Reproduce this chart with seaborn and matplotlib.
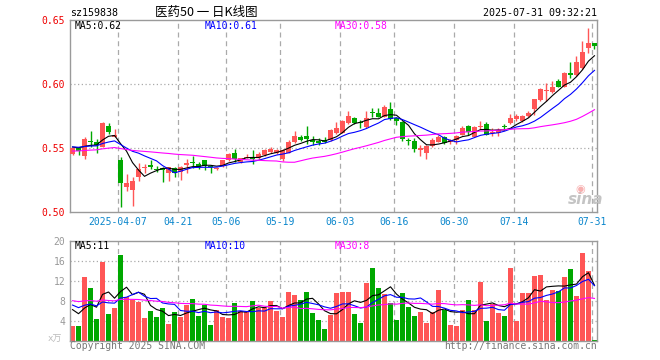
import numpy as np
import pandas as pd
import seaborn as sns
from matplotlib import pyplot as plt

# ------------------------------------------------- #
# daily K data, sz159838
holidays = ["2025-04-04", "2025-05-01", "2025-05-02", "2025-05-05", "2025-06-02"]
tick_dates = ["2025-04-07", "2025-04-21", "2025-05-06", "2025-05-19", "2025-06-03",
              "2025-06-16", "2025-06-30", "2025-07-14", "2025-07-31"]
tick_labels = ["2025-04-07", "04-21", "05-06", "05-19", "06-03",
               "06-16", "06-30", "07-14", "07-31"]

opens = [0.5451, 0.5498, 0.5440, 0.5555, 0.5549, 0.5505, 0.5674, 0.5588, 0.5406, 0.5198,
         0.5172, 0.5271, 0.5341, 0.5367, 0.5334, 0.5346, 0.5302, 0.5346, 0.5315, 0.5367,
         0.5393, 0.5375, 0.5406, 0.5357, 0.5333, 0.5359, 0.5406, 0.5463, 0.5393, 0.5424,
         0.5427, 0.5419, 0.5445, 0.5471, 0.5458, 0.5414, 0.5463, 0.5545, 0.5588, 0.5594,
         0.5563, 0.5549, 0.5563, 0.5563, 0.5620, 0.5620, 0.5698, 0.5732, 0.5698, 0.5666,
         0.5776, 0.5776, 0.5745, 0.5805, 0.5732, 0.5701, 0.5563, 0.5555, 0.5484, 0.5458,
         0.5516, 0.5549, 0.5588, 0.5549, 0.5563, 0.5602, 0.5672, 0.5588, 0.5662, 0.5688,
         0.5615, 0.5620, 0.5666, 0.5698, 0.5724, 0.5711, 0.5750, 0.5802, 0.5875, 0.5945,
         0.5935, 0.6026, 0.5979, 0.6088, 0.6070, 0.6123, 0.6279, 0.6318]
closes = [0.5498, 0.5479, 0.5570, 0.5547, 0.5523, 0.5693, 0.5625, 0.5602, 0.5229, 0.5229,
          0.5245, 0.5336, 0.5354, 0.5354, 0.5328, 0.5328, 0.5349, 0.5307, 0.5354, 0.5380,
          0.5380, 0.5354, 0.5359, 0.5352, 0.5346, 0.5406, 0.5453, 0.5412, 0.5419, 0.5432,
          0.5414, 0.5451, 0.5484, 0.5492, 0.5484, 0.5484, 0.5549, 0.5596, 0.5563, 0.5570,
          0.5549, 0.5542, 0.5549, 0.5641, 0.5659, 0.5711, 0.5750, 0.5693, 0.5693, 0.5737,
          0.5771, 0.5745, 0.5823, 0.5727, 0.5714, 0.5568, 0.5555, 0.5490, 0.5497, 0.5516,
          0.5563, 0.5588, 0.5542, 0.5563, 0.5594, 0.5659, 0.5627, 0.5666, 0.5672, 0.5602,
          0.5627, 0.5641, 0.5662, 0.5737, 0.5750, 0.5752, 0.5776, 0.5880, 0.5961, 0.5953,
          0.5979, 0.5979, 0.6088, 0.6070, 0.6169, 0.6248, 0.6318, 0.6299]
highs = [0.5502, 0.5505, 0.5584, 0.5633, 0.5568, 0.5705, 0.5693, 0.5645, 0.5432, 0.5297,
         0.5271, 0.5380, 0.5373, 0.5406, 0.5360, 0.5355, 0.5355, 0.5352, 0.5360, 0.5414,
         0.5438, 0.5393, 0.5410, 0.5370, 0.5352, 0.5410, 0.5458, 0.5495, 0.5425, 0.5450,
         0.5484, 0.5466, 0.5490, 0.5508, 0.5490, 0.5490, 0.5560, 0.5635, 0.5605, 0.5674,
         0.5590, 0.5580, 0.5585, 0.5650, 0.5700, 0.5720, 0.5790, 0.5740, 0.5720, 0.5790,
         0.5810, 0.5810, 0.5836, 0.5862, 0.5745, 0.5710, 0.5580, 0.5575, 0.5520, 0.5525,
         0.5575, 0.5600, 0.5595, 0.5570, 0.5600, 0.5670, 0.5680, 0.5672, 0.5711, 0.5700,
         0.5660, 0.5655, 0.5685, 0.5765, 0.5765, 0.5760, 0.5790, 0.5885, 0.5965, 0.6005,
         0.6020, 0.6036, 0.6092, 0.6174, 0.6219, 0.6336, 0.6440, 0.6320]
lows = [0.5445, 0.5445, 0.5412, 0.5505, 0.5460, 0.5505, 0.5609, 0.5583, 0.5041, 0.5166,
        0.5049, 0.5245, 0.5302, 0.5336, 0.5310, 0.5237, 0.5245, 0.5271, 0.5250, 0.5302,
        0.5342, 0.5336, 0.5328, 0.5302, 0.5328, 0.5349, 0.5400, 0.5388, 0.5385, 0.5418,
        0.5375, 0.5415, 0.5440, 0.5458, 0.5450, 0.5400, 0.5458, 0.5540, 0.5555, 0.5531,
        0.5520, 0.5520, 0.5540, 0.5555, 0.5610, 0.5615, 0.5690, 0.5685, 0.5660, 0.5660,
        0.5745, 0.5740, 0.5740, 0.5720, 0.5680, 0.5555, 0.5520, 0.5471, 0.5440, 0.5412,
        0.5510, 0.5545, 0.5530, 0.5530, 0.5530, 0.5598, 0.5600, 0.5585, 0.5650, 0.5598,
        0.5590, 0.5590, 0.5640, 0.5690, 0.5710, 0.5705, 0.5745, 0.5758, 0.5870, 0.5870,
        0.5930, 0.5975, 0.5975, 0.6050, 0.6065, 0.6118, 0.6245, 0.6270]
# volume in 万 shares
volumes = [3.0, 3.0, 12.8, 10.6, 4.4, 15.8, 5.4, 6.6, 17.2, 8.8,
           8.3, 7.8, 4.6, 6.0, 4.8, 6.6, 3.4, 5.8, 4.9, 7.3,
           8.4, 5.0, 7.2, 3.2, 6.3, 4.8, 4.6, 7.6, 6.0, 5.9,
           8.0, 6.7, 6.7, 8.1, 6.0, 4.8, 9.8, 9.3, 8.2, 9.8,
           5.6, 4.2, 2.5, 5.3, 9.6, 9.9, 9.9, 5.5, 3.7, 11.6,
           14.7, 10.7, 9.5, 7.7, 4.3, 9.7, 6.9, 5.1, 5.9, 3.7,
           5.8, 10.3, 6.3, 3.3, 3.1, 6.3, 8.3, 6.3, 11.9, 4.1,
           7.5, 5.7, 5.1, 14.7, 4.1, 9.7, 9.7, 13.1, 13.3, 8.3,
           10.3, 10.1, 12.9, 14.5, 9.1, 17.7, 14.1, 0.3]

# sessions before the window, only needed to start the moving averages
prev_closes = [0.5460, 0.5462, 0.5458, 0.5461, 0.5459, 0.5460, 0.5462, 0.5458, 0.5460, 0.5461,
               0.5459, 0.5460, 0.5462, 0.5458, 0.5460, 0.5461, 0.5459, 0.5460, 0.5462, 0.5460,
               0.5510, 0.5512, 0.5508, 0.5511, 0.5509, 0.5510, 0.5512, 0.5508, 0.5510]
prev_volumes = [8.6, 8.4, 8.5, 8.7, 8.3, 8.5, 8.6, 8.4, 8.5, 8.5,
                8.6, 8.4, 8.5, 8.7, 8.3, 8.5, 8.6, 8.4, 8.5, 8.5,
                8.2, 8.0, 8.1, 8.2, 8.0, 7.1, 7.2, 7.0, 7.1]

ma_text = ["MA5:0.62", "MA10:0.61", "MA30:0.58"]
vol_ma_text = ["MA5:11", "MA10:10", "MA30:8"]
# ------------------------------------------------- #

RED = "#ff5656"
GREEN = "#00a800"
MA_COLORS = ["black", "#0000ff", "#ff00ff"]
GRID = "#aaaaaa"

dates = pd.bdate_range("2025-03-25", "2025-07-31", freq="C", holidays=holidays)
df = pd.DataFrame({"open": opens, "close": closes, "high": highs, "low": lows,
                   "vol": volumes}, index=dates)
df["x"] = np.arange(len(df))
up = df["close"] >= df["open"]
df["color"] = np.where(up, RED, GREEN)

full_c = pd.Series(prev_closes + closes)
full_v = pd.Series(prev_volumes + volumes)
n0 = len(prev_closes)
for w in (5, 10, 30):
    df["ma%d" % w] = full_c.rolling(w).mean().iloc[n0:].values
    df["vma%d" % w] = full_v.rolling(w).mean().iloc[n0:].values

tick_pos = [df.index.get_loc(pd.Timestamp(d)) - 0.4 for d in tick_dates]

plt.rcParams["font.family"] = ["DejaVu Sans Mono", "Noto Sans CJK SC"]
fig = plt.figure(figsize=(6.6, 3.6), dpi=100)
W, H = 660.0, 360.0


def px_axes(left, top, right, bottom):
    return fig.add_axes([left / W, 1 - bottom / H, (right - left) / W, (bottom - top) / H])


ax = px_axes(70, 20, 597, 212)
axv = px_axes(70, 241, 597, 341)
xlim = (-0.42, len(df) - 1 + 0.42)

# --- price panel ---
for a in (ax, axv):
    for s in a.spines.values():
        s.set_color("#9a9a9a")
        s.set_linewidth(1)
    for t in tick_pos:
        a.axvline(t, color=GRID, lw=0.9, ls=(0, (4, 3)), zorder=0)
    a.set_xlim(*xlim)
    a.set_xticks([])
    a.tick_params(length=0)

for yv in (0.55, 0.60):
    ax.axhline(yv, color=GRID, lw=0.9, ls=(0, (1, 2)), zorder=0)

body_lo = df[["open", "close"]].min(axis=1)
body_h = (df["close"] - df["open"]).abs().clip(lower=0.0009)
ax.vlines(df["x"], df["low"], df["high"], colors=df["color"], lw=1, zorder=2)
ax.bar(df["x"], body_h, bottom=body_lo, width=0.74, color=df["color"], zorder=3)

for w, c in zip((5, 10, 30), MA_COLORS):
    sns.lineplot(x=df["x"], y=df["ma%d" % w], ax=ax, color=c, lw=0.8, legend=False, zorder=4)

ax.set_ylim(0.50, 0.65)
ax.set_yticks([0.50, 0.55, 0.60, 0.65])
ax.set_yticklabels(["0.50", "0.55", "0.60", "0.65"], color="#ee0000", fontsize=7)
ax.set_xlabel("")
ax.set_ylabel("")

for lab, c, xp in zip(ma_text, MA_COLORS, (75, 205, 335)):
    fig.text(xp / W, 1 - 26 / H, lab, color=c, fontsize=7, va="center")

# sina watermark
fig.text(568 / W, 1 - 200 / H, "sina", color="#c4c4c4", fontsize=11, fontweight="bold",
         style="italic", family="DejaVu Sans", va="center")
fig.text(580 / W, 1 - 189 / H, "◉", color="#f7b0b0", fontsize=8, family="DejaVu Sans",
         va="center", ha="center")

# date labels
for t, lab in zip(tick_pos, tick_labels):
    ax.text(t, -0.05, lab, transform=ax.get_xaxis_transform(), ha="center", va="center",
            color="#0a86cc", fontsize=7)

# --- volume panel ---
axv.bar(df["x"], df["vol"], width=0.84, color=df["color"], zorder=2)
for yv in (4, 8, 12, 16):
    axv.axhline(yv, color=GRID, lw=0.9, ls=(0, (1, 2)), zorder=0)
for w, c in zip((5, 10, 30), MA_COLORS):
    sns.lineplot(x=df["x"], y=df["vma%d" % w], ax=axv, color=c, lw=0.8, legend=False, zorder=4)
axv.set_ylim(0, 20)
axv.set_yticks([4, 8, 12, 16, 20])
axv.set_yticklabels(["4", "8", "12", "16", "20"], color="#999999", fontsize=7)
axv.set_xlabel("")
axv.set_ylabel("")
fig.text(48 / W, 1 - 339 / H, "x万", color="#bbbbbb", fontsize=6.5, va="center")

for lab, c, xp in zip(vol_ma_text, MA_COLORS, (75, 205, 335)):
    fig.text(xp / W, 1 - 246 / H, lab, color=c, fontsize=7, va="center")

# header and footer
fig.text(70 / W, 1 - 12.5 / H, "sz159838", fontsize=7.2, va="center")
fig.text(206 / W, 1 - 12.5 / H, "医药50 一 日K线图", fontsize=9, va="center", ha="center",
         family=["Noto Sans CJK SC", "DejaVu Sans"])
fig.text(597 / W, 1 - 12.5 / H, "2025-07-31 09:32:21", fontsize=7.2, va="center", ha="right")
fig.text(70 / W, 1 - 346 / H, "Copyright 2025 SINA.COM", fontsize=7, color="#777777", va="center")
fig.text(597 / W, 1 - 346 / H, "http://finance.sina.com.cn", fontsize=7, color="#777777",
         va="center", ha="right")

fig.savefig("out.png", dpi=100, facecolor="white")
